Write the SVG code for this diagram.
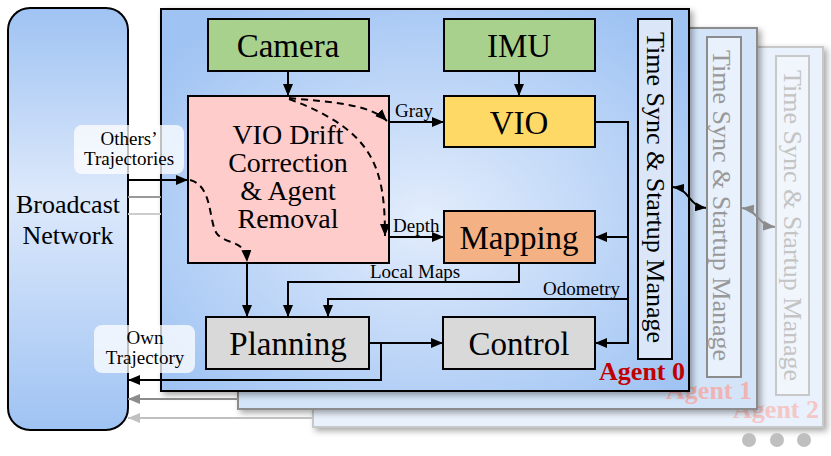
<svg xmlns="http://www.w3.org/2000/svg" width="831" height="456" viewBox="0 0 831 456" font-family="Liberation Serif, DejaVu Serif, serif">
<defs>
<style>
text{font-family:'Liberation Serif','DejaVu Serif',serif;fill:#000}
.box{stroke:#000;stroke-width:2}
.lbl{font-size:33px;text-anchor:middle}
.sm{font-size:19px}
.c{fill:none;stroke:#000;stroke-width:2}
.d{fill:none;stroke:#000;stroke-width:2;stroke-dasharray:7,5}
.ts{font-size:26px}
.ag{font-size:26px;font-weight:bold;text-anchor:end}
</style>
<linearGradient id="gB" x1="0" y1="0" x2="0" y2="1">
<stop offset="0" stop-color="#9fc3f3"/>
<stop offset="0.45" stop-color="#dde9fb"/>
<stop offset="1" stop-color="#9fc3f3"/>
</linearGradient>
<radialGradient id="gA" cx="0.5" cy="0.55" r="0.65">
<stop offset="0" stop-color="#e3edfc"/>
<stop offset="1" stop-color="#9fc3f3"/>
</radialGradient>
<filter id="sh" x="-5%" y="-5%" width="115%" height="115%">
<feDropShadow dx="3" dy="3" stdDeviation="3" flood-color="#000" flood-opacity="0.35"/>
</filter>
<marker id="ar" markerUnits="userSpaceOnUse" markerWidth="12" markerHeight="10" refX="12" refY="5" orient="auto-start-reverse">
<path d="M0,0 L12,5 L0,10 z" fill="#000"/>
</marker>
<marker id="arS" markerUnits="userSpaceOnUse" markerWidth="11" markerHeight="9" refX="11" refY="4.5" orient="auto-start-reverse">
<path d="M0,0 L11,4.5 L0,9 z" fill="#000"/>
</marker>
<marker id="arG" markerUnits="userSpaceOnUse" markerWidth="12" markerHeight="10" refX="12" refY="5" orient="auto-start-reverse">
<path d="M0,0 L12,5 L0,10 z" fill="#8c8c8c"/>
</marker>
<marker id="arL" markerUnits="userSpaceOnUse" markerWidth="12" markerHeight="10" refX="12" refY="5" orient="auto-start-reverse">
<path d="M0,0 L12,5 L0,10 z" fill="#c0c0c0"/>
</marker>
</defs>
<rect width="831" height="456" fill="#fff"/>

<g id="agent2">
<rect x="313" y="47" width="510" height="380" fill="#e9f1fc" stroke="#c8c8c8" stroke-width="2" filter="url(#sh)"/>
<rect x="776" y="56" width="33" height="339" fill="#f1f6fd" stroke="#c8c8c8" stroke-width="2"/>
<text class="ts" transform="translate(784,70) rotate(90)" style="fill:#c4c4c4">Time Sync &amp; Startup Manage</text>
<text class="ag" x="819" y="418" style="fill:#f5c6c6">Agent 2</text>
</g>
<g id="agent1">
<rect x="238" y="28" width="519" height="381" fill="#d3e4f9" stroke="#8c8c8c" stroke-width="2" filter="url(#sh)"/>
<rect x="707" y="37" width="34" height="340" fill="#e9f1fc" stroke="#8c8c8c" stroke-width="2"/>
<text class="ts" transform="translate(713,50) rotate(90)" style="fill:#999">Time Sync &amp; Startup Manage</text>
<text class="ag" x="752" y="399" style="fill:#f0b3b3">Agent 1</text>
</g>
<g id="agent0">
<rect x="161" y="9" width="528" height="382" fill="url(#gA)" stroke="#000" stroke-width="2" filter="url(#sh)"/>
<text class="ag" x="685" y="380" style="fill:#c00000">Agent 0</text>
</g>

<g id="broadcast">
<rect x="8" y="8" width="120" height="422" rx="22" fill="url(#gB)" stroke="#000" stroke-width="2"/>
<text x="68" y="213" style="font-size:26px;text-anchor:middle">Broadcast</text>
<text x="68" y="244" style="font-size:26px;text-anchor:middle">Network</text>
</g>

<g id="timesync">
<rect x="638" y="19" width="34" height="340" fill="#dbe7f9" stroke="#000" stroke-width="2"/>
<text class="ts" transform="translate(647,32) rotate(90)">Time Sync &amp; Startup Manage</text>
</g>
<g id="camera">
<rect class="box" x="208" y="19" width="161" height="52" fill="#a9d18e"/>
<text class="lbl" x="288" y="57">Camera</text>
</g>
<g id="imu">
<rect class="box" x="444" y="19" width="151" height="52" fill="#a9d18e"/>
<text class="lbl" x="519" y="57">IMU</text>
</g>
<g id="vio">
<rect class="box" x="444" y="96" width="151" height="51" fill="#ffd966"/>
<text class="lbl" x="519" y="134">VIO</text>
</g>
<g id="mapping">
<rect class="box" x="444" y="211" width="151" height="52" fill="#f4b183"/>
<text class="lbl" x="519" y="249">Mapping</text>
</g>
<g id="drift">
<rect class="box" x="188" y="96" width="201" height="167" fill="#ffcccc"/>
<text x="288" y="144" style="font-size:28px;text-anchor:middle">VIO Drift</text>
<text x="288" y="172" style="font-size:28px;text-anchor:middle">Correction</text>
<text x="288" y="200" style="font-size:28px;text-anchor:middle">&amp; Agent</text>
<text x="288" y="228" style="font-size:28px;text-anchor:middle">Removal</text>
</g>
<g id="planning">
<rect class="box" x="206" y="317" width="163" height="52" fill="#d9d9d9"/>
<text class="lbl" x="288" y="355">Planning</text>
</g>
<g id="control">
<rect class="box" x="443" y="317" width="152" height="52" fill="#d9d9d9"/>
<text class="lbl" x="519" y="355">Control</text>
</g>

<g id="connectors">
<path d="M128,197 H161" stroke="#999" stroke-width="2" fill="none"/>
<path d="M128,214 H161" stroke="#ccc" stroke-width="2" fill="none"/>
<path d="M238,399 H128" stroke="#8c8c8c" stroke-width="2" fill="none" marker-end="url(#arG)"/>
<path d="M313,418 H128" stroke="#c0c0c0" stroke-width="2" fill="none" marker-end="url(#arL)"/>
<path class="c" d="M288,71 V96" marker-end="url(#ar)"/>
<path class="c" d="M519,71 V96" marker-end="url(#ar)"/>
<path class="c" d="M389,122 H444" marker-end="url(#ar)"/>
<path class="c" d="M389,237 H444" marker-end="url(#ar)"/>
<path class="c" d="M128,180 H188" marker-end="url(#ar)"/>
<path class="c" d="M247,263 V317" marker-end="url(#ar)"/>
<path class="c" d="M519,263 V282 H288 V317" marker-end="url(#ar)"/>
<path class="c" d="M595,122 H628 V343 H595" marker-end="url(#ar)"/>
<path class="c" d="M628,237 H595" marker-end="url(#ar)"/>
<path class="c" d="M628,299 H328 V317" marker-end="url(#ar)"/>
<path class="c" d="M369,343 H443" marker-end="url(#ar)"/>
<path class="c" d="M381,343 V380 H128" marker-end="url(#ar)"/>
<path class="d" d="M289,98 C330,102 370,104 387,121" marker-end="url(#ar)"/>
<path class="d" d="M289,99 C372,130 385,165 385,236" marker-end="url(#ar)"/>
<path class="d" d="M190,180 C214,186 208,225 218,235 C228,245 246,240 247,262" marker-end="url(#ar)"/>
<path class="c" d="M673,187 C690,189 688,206 706,208" marker-start="url(#arS)" marker-end="url(#arS)"/>
<path d="M742,208 C758,210 757,225 775,227" stroke="#8c8c8c" stroke-width="2" fill="none" marker-start="url(#arG)" marker-end="url(#arG)"/>
<text class="sm" x="395" y="117">Gray</text>
<text class="sm" x="393" y="232">Depth</text>
<text class="sm" x="370" y="278">Local Maps</text>
<text class="sm" x="543" y="295">Odometry</text>
</g>

<g id="label-others">
<rect x="74" y="125" width="110" height="49" rx="8" fill="#fff" fill-opacity="0.75"/>
<text class="sm" x="129" y="145" text-anchor="middle">Others’</text>
<text class="sm" x="129" y="165" text-anchor="middle">Trajectories</text>
</g>
<g id="label-own">
<rect x="94" y="325" width="101" height="48" rx="8" fill="#fff" fill-opacity="0.75"/>
<text class="sm" x="145" y="344" text-anchor="middle">Own</text>
<text class="sm" x="145" y="364" text-anchor="middle">Trajectory</text>
</g>

<g id="more">
<circle cx="749" cy="440" r="7" fill="#bfbfbf"/>
<circle cx="777" cy="440" r="7" fill="#bfbfbf"/>
<circle cx="804" cy="440" r="7" fill="#bfbfbf"/>
</g>
</svg>
